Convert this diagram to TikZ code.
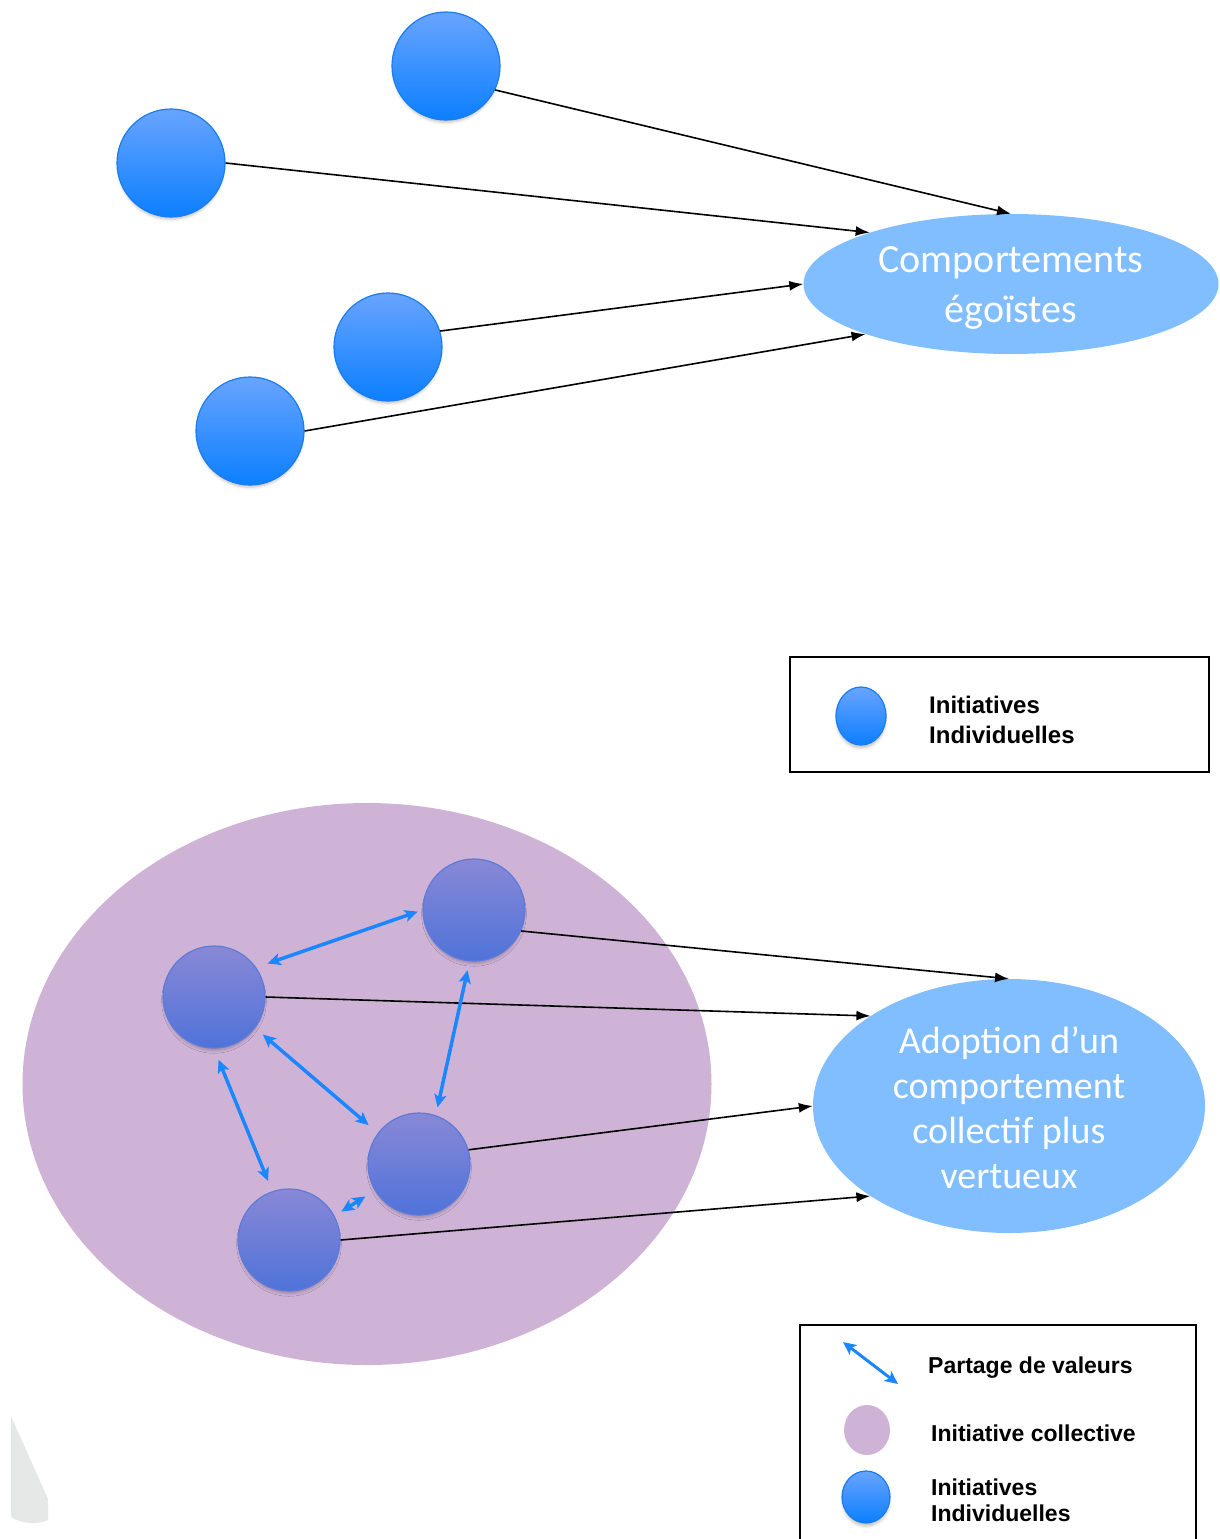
\documentclass[tikz,border=0pt]{standalone}
\usepackage{fontspec}
\setmainfont{Carlito}
\newfontfamily\legendfont{Liberation Sans}
\usetikzlibrary{arrows.meta,shapes.geometric,shadows.blur}

\definecolor{indivtop}{HTML}{68A4FF}
\definecolor{indivbot}{HTML}{0C7FFF}
\definecolor{indivedge}{HTML}{1A7CF0}
\definecolor{grptop}{HTML}{8888D6}
\definecolor{grpbot}{HTML}{4F73D9}
\definecolor{grpedge}{HTML}{5C7AD8}
\definecolor{outcome}{HTML}{80BEFF}
\definecolor{collective}{HTML}{CFB3D7}
\definecolor{share}{HTML}{1A86FF}
\definecolor{scrap}{HTML}{E6E8E8}

\begin{document}
\begin{tikzpicture}[x=1pt,y=-1pt,
  softshadow/.style={blur shadow={shadow xshift=0pt, shadow yshift=-4pt,
      shadow blur radius=3pt, shadow blur extra rounding=0pt,
      shadow scale=0.97, shadow opacity=25}},
  indiv/.style={circle, minimum size=108pt, inner sep=0pt, draw=indivedge,
      line width=1.2pt, top color=indivtop, bottom color=indivbot, softshadow},
  member/.style={circle, minimum size=102pt, inner sep=0pt, draw=grpedge,
      line width=1.2pt, top color=grptop, bottom color=grpbot, softshadow},
  outcomebox/.style={ellipse, inner sep=0pt, fill=outcome},
  outcometext/.style={text=white, align=center, inner sep=0pt},
  flow/.style={line width=1.6pt, -{Latex[length=14pt,width=10pt]}},
  sharing/.style={line width=3.5pt, draw=share,
      {Stealth[length=13pt,width=12pt,inset=3pt]}-{Stealth[length=13pt,width=12pt,inset=3pt]}},
  keytext/.style={anchor=west, inner sep=0pt, align=left,
      font=\legendfont\bfseries\fontsize{23}{26}\selectfont},
  keybox/.style={draw, line width=1.5pt}
]
\useasboundingbox (0,0) rectangle (1219,1539);

% ---------- selfish behaviour ----------
\node (ego) [outcomebox, minimum width=415pt, minimum height=140pt] at (1011,284) {};
\node (egotext) [outcometext, font=\fontsize{40}{50}\selectfont, yshift=-4pt]
  at (ego.center) {Comportements\\égoïstes};

\node (a) [indiv] at (446,66) {};
\node (b) [indiv] at (171,163) {};
\node (c) [indiv] at (388,347) {};
\node (d) [indiv] at (250,431) {};

\draw[flow] (a.-26) -- (ego.north);
\draw[flow] (b.east) -- (ego.160.5);
\draw[flow] (c.17) -- (ego.west);
\draw[flow] (d.east) -- (ego.199);

% ---------- legend 1 ----------
\draw[keybox] (790,657) rectangle (1209,772);
\node (k1c) [ellipse, minimum width=50pt, minimum height=58pt, inner sep=0pt,
  draw=indivedge, line width=1.2pt, top color=indivtop, bottom color=indivbot,
  softshadow] at (861,716) {};
\node (k1t) [keytext, font=\legendfont\bfseries\fontsize{24}{30}\selectfont]
  at (929,720) {Initiatives\\Individuelles};

% ---------- collective behaviour ----------
\node (grp) [ellipse, minimum width=689pt, minimum height=562pt, inner sep=0pt,
  fill=collective] at (367,1084) {};

\node (adopt) [outcomebox, minimum width=392pt, minimum height=254pt] at (1009,1106) {};
\node (adopttext) [outcometext, font=\fontsize{38}{45}\selectfont, yshift=-2pt]
  at (adopt.center) {Adoption d’un\\comportement\\collectif plus\\vertueux};

\node (e) [member] at (214,997) {};
\node (f) [member] at (474,910) {};
\node (g) [member] at (419,1164) {};
\node (h) [member] at (289,1240) {};

\draw[flow] (f.-24) -- (adopt.north);
\draw[flow] (e.east) -- (adopt.147);
\draw[flow] (g.16) -- (adopt.west);
\draw[flow] (h.east) -- (adopt.213);

\draw[sharing, shorten <=12pt, shorten >=5pt] (e.35) -- (f.180);
\draw[sharing, shorten <=10pt, shorten >=12pt] (e.-37) -- (g.143);
\draw[sharing, shorten <=12pt, shorten >=11pt] (e.-90) -- (h.109);
\draw[sharing, shorten <=9pt, shorten >=8pt] (f.-95) -- (g.71);
\draw[sharing, shorten <=11pt, shorten >=8pt] (g.-149) -- (h.28);

% ---------- legend 2 ----------
\draw[keybox] (800,1548) -- (800,1325) -- (1196,1325) -- (1196,1548);
\coordinate (k2a) at (843,1342);
\coordinate (k2b) at (898,1384);
\draw[sharing, line width=3pt] (k2a) -- (k2b);
\node (k2t) [keytext] at (928,1368) {Partage de valeurs};
\node (k2c) [ellipse, minimum width=46pt, minimum height=50pt, inner sep=0pt,
  fill=collective] at (867,1430) {};
\node (k2u) [keytext] at (931,1433) {Initiative collective};
\node (k2d) [ellipse, minimum width=48pt, minimum height=52pt, inner sep=0pt,
  draw=indivedge, line width=1.2pt, top color=indivtop, bottom color=indivbot,
  softshadow] at (866,1497) {};
\node (k2v) [keytext] at (931,1500) {Initiatives\\Individuelles};

% ---------- stray shape at the lower left ----------
\fill[scrap] (11,1416) -- (48,1499) -- (48,1520)
  .. controls (38,1525) and (22,1524) .. (11,1517) -- cycle;
\end{tikzpicture}
\end{document}
